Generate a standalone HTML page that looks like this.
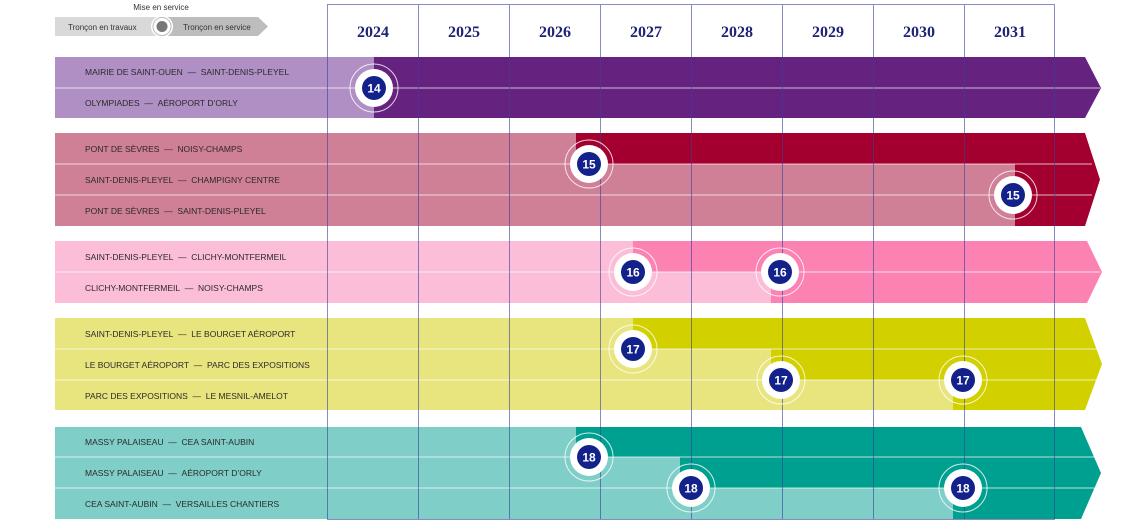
<!DOCTYPE html><html><head><style>body{margin:0;background:#fff}svg{display:block}.s{font-family:"Liberation Sans",sans-serif}.y{font-family:"Liberation Serif",serif}</style></head><body>
<svg width="1129" height="523" xmlns="http://www.w3.org/2000/svg" class="s">
<text x="161" y="10" font-size="8" fill="#333" text-anchor="middle">Mise en service</text>
<polygon points="55,17 162,17 162,36 55,36" fill="#d9d9d9"/>
<polygon points="162,17 258,17 268,26.5 258,36 162,36" fill="#bdbdbd"/>
<circle cx="162" cy="26.5" r="11" fill="#fff"/><circle cx="162" cy="26.5" r="9" fill="none" stroke="#bbb" stroke-width="1"/><circle cx="162" cy="26.5" r="5.5" fill="#777"/>
<text x="68" y="30" font-size="8" fill="#333">Tronçon en travaux</text>
<text x="183" y="30" font-size="8" fill="#333">Tronçon en service</text>
<polygon points="55,57 1085,57 1101,88 1085,118 55,118" fill="#65237f"/>
<rect x="55" y="57" width="319" height="61" fill="#b08fc4"/>
<polygon points="55,133 1085,133 1100,179.5 1085,226 55,226" fill="#a3002f"/>
<rect x="55" y="133" width="521" height="31" fill="#cf7f96"/>
<rect x="55" y="164" width="960" height="62" fill="#cf7f96"/>
<polygon points="55,241 1087,241 1102,272 1087,303 55,303" fill="#fb82b2"/>
<rect x="55" y="241" width="578" height="31" fill="#fbbdd7"/>
<rect x="55" y="272" width="716" height="31" fill="#fbbdd7"/>
<polygon points="55,318 1085,318 1102,364 1085,410 55,410" fill="#d3d000"/>
<rect x="55" y="318" width="578" height="31" fill="#e8e57f"/>
<rect x="55" y="349" width="716" height="31" fill="#e8e57f"/>
<rect x="55" y="380" width="898" height="30" fill="#e8e57f"/>
<polygon points="55,427 1081,427 1101,473 1081,519 55,519" fill="#00a090"/>
<rect x="55" y="427" width="521" height="30" fill="#7fcec8"/>
<rect x="55" y="457" width="625" height="31" fill="#7fcec8"/>
<rect x="55" y="488" width="898" height="31" fill="#7fcec8"/>
<g stroke="#fff" stroke-width="1" opacity=".7">
<line x1="55" y1="88" x2="1100" y2="88"/>
<line x1="55" y1="164" x2="1092" y2="164"/><line x1="55" y1="195" x2="1092" y2="195"/>
<line x1="55" y1="272" x2="1100" y2="272"/>
<line x1="55" y1="349" x2="1097" y2="349"/><line x1="55" y1="380" x2="1097" y2="380"/>
<line x1="55" y1="457" x2="1095" y2="457"/><line x1="55" y1="488" x2="1095" y2="488"/>
</g>
<g stroke="#3a3f9a" stroke-width="1" opacity=".6" fill="none">
<rect x="327.5" y="4.5" width="727" height="515"/>
<line x1="418.5" y1="4" x2="418.5" y2="520"/><line x1="509.5" y1="4" x2="509.5" y2="520"/><line x1="600.5" y1="4" x2="600.5" y2="520"/><line x1="691.5" y1="4" x2="691.5" y2="520"/><line x1="782.5" y1="4" x2="782.5" y2="520"/><line x1="873.5" y1="4" x2="873.5" y2="520"/><line x1="964.5" y1="4" x2="964.5" y2="520"/>
</g>
<g class="y" font-size="16" font-weight="bold" fill="#1d2377" text-anchor="middle">
<text x="373" y="37">2024</text><text x="464" y="37">2025</text><text x="555" y="37">2026</text><text x="646" y="37">2027</text><text x="737" y="37">2028</text><text x="828" y="37">2029</text><text x="919" y="37">2030</text><text x="1010" y="37">2031</text>
</g>
<g font-size="8.5" fill="#2a2a2a">
<text x="85" y="75">MAIRIE DE SAINT-OUEN&#160;&#160;—&#160;&#160;SAINT-DENIS-PLEYEL</text>
<text x="85" y="106">OLYMPIADES&#160;&#160;—&#160;&#160;AÉROPORT D’ORLY</text>
<text x="85" y="152">PONT DE SÈVRES&#160;&#160;—&#160;&#160;NOISY-CHAMPS</text>
<text x="85" y="183">SAINT-DENIS-PLEYEL&#160;&#160;—&#160;&#160;CHAMPIGNY CENTRE</text>
<text x="85" y="214">PONT DE SÈVRES&#160;&#160;—&#160;&#160;SAINT-DENIS-PLEYEL</text>
<text x="85" y="260">SAINT-DENIS-PLEYEL&#160;&#160;—&#160;&#160;CLICHY-MONTFERMEIL</text>
<text x="85" y="291">CLICHY-MONTFERMEIL&#160;&#160;—&#160;&#160;NOISY-CHAMPS</text>
<text x="85" y="337">SAINT-DENIS-PLEYEL&#160;&#160;—&#160;&#160;LE BOURGET AÉROPORT</text>
<text x="85" y="368">LE BOURGET AÉROPORT&#160;&#160;—&#160;&#160;PARC DES EXPOSITIONS</text>
<text x="85" y="399">PARC DES EXPOSITIONS&#160;&#160;—&#160;&#160;LE MESNIL-AMELOT</text>
<text x="85" y="445">MASSY PALAISEAU&#160;&#160;—&#160;&#160;CEA SAINT-AUBIN</text>
<text x="85" y="476">MASSY PALAISEAU&#160;&#160;—&#160;&#160;AÉROPORT D’ORLY</text>
<text x="85" y="507">CEA SAINT-AUBIN&#160;&#160;—&#160;&#160;VERSAILLES CHANTIERS</text>
</g>
<defs>
<g id="b"><circle r="24" fill="none" stroke="#fff" stroke-width="1" opacity=".8"/><circle r="19" fill="#fff"/><circle r="12" fill="#13218a"/></g>
</defs>
<g font-size="12" font-weight="bold" fill="#fff" text-anchor="middle">
<use href="#b" x="374" y="88"/><text x="374" y="92.5">14</text>
<use href="#b" x="589" y="164"/><text x="589" y="168.5">15</text>
<use href="#b" x="1013" y="195"/><text x="1013" y="199.5">15</text>
<use href="#b" x="633" y="272"/><text x="633" y="276.5">16</text>
<use href="#b" x="780" y="272"/><text x="780" y="276.5">16</text>
<use href="#b" x="633" y="349"/><text x="633" y="353.5">17</text>
<use href="#b" x="781" y="380"/><text x="781" y="384.5">17</text>
<use href="#b" x="963" y="380"/><text x="963" y="384.5">17</text>
<use href="#b" x="589" y="457"/><text x="589" y="461.5">18</text>
<use href="#b" x="691" y="488"/><text x="691" y="492.5">18</text>
<use href="#b" x="963" y="488"/><text x="963" y="492.5">18</text>
</g>
</svg></body></html>
